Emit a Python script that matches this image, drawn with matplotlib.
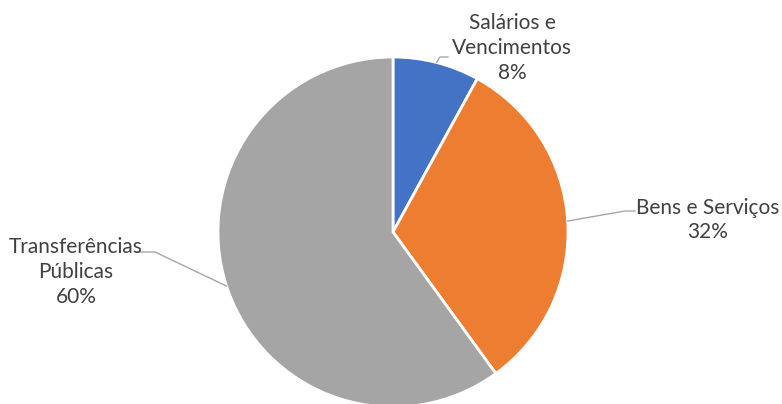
import matplotlib.pyplot as plt
import numpy as np

plt.rcParams['font.family'] = ['Lato', 'DejaVu Sans']

categorias = ['Salários e\nVencimentos', 'Bens e Serviços', 'Transferências\nPúblicas']
valores = [8, 32, 60]
cores = ['#4472C4', '#ED7D31', '#A5A5A5']

# posição dos rótulos (pixels, y a partir do topo) e ponto do cotovelo da linha guia
pos_rotulos = [(512, 48), (708, 220), (76, 272)]
cotovelos = [[(440, 57), (448, 57)], [(625, 211), (635, 211)], [(155, 252), (137, 252)]]

W, H = 782, 404
fig = plt.figure(figsize=(W / 100, H / 100), dpi=100)
ax = fig.add_axes([0, 0, 1, 1])

centro = (393, H - 232)
raio = 175
fatias, _ = ax.pie(valores, colors=cores, startangle=90, counterclock=False,
                   center=centro, radius=raio,
                   wedgeprops=dict(edgecolor='white', linewidth=2))

for fatia, cat, v, pos, cot in zip(fatias, categorias, valores, pos_rotulos, cotovelos):
    ang = np.deg2rad((fatia.theta1 + fatia.theta2) / 2)
    bx = centro[0] + raio * np.cos(ang)
    by = centro[1] + raio * np.sin(ang)
    xs = [bx] + [p[0] for p in cot]
    ys = [by] + [H - p[1] for p in cot]
    ax.plot(xs, ys, color='#A6A6A6', linewidth=1)
    ax.text(pos[0], H - pos[1], f'{cat}\n{v}%', ha='center', va='center',
            fontsize=15, color='#404040', linespacing=1.3)

ax.set_xlim(0, W)
ax.set_ylim(0, H)
ax.set_aspect('equal')
ax.axis('off')

fig.savefig('out.png', dpi=100)
